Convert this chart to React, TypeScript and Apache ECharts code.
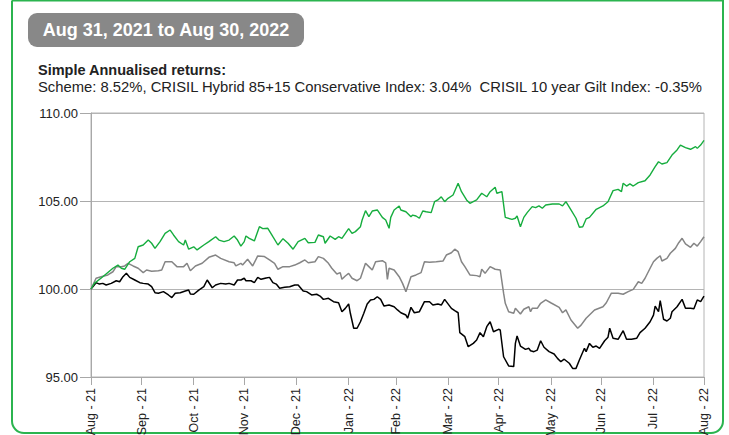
import React, { useEffect, useRef } from "react";
import * as echarts from "echarts";

const titleText = "Aug 31, 2021 to Aug 30, 2022";
const returnsHeading = "Simple Annualised returns:";
const returnsText =
  "Scheme: 8.52%, CRISIL Hybrid 85+15 Conservative Index: 3.04%  CRISIL 10 year Gilt Index: -0.35%";

const yTicks = [95, 100, 105, 110];

const startDate = "2021-08-31";
const endDate = "2022-08-30";

const tickDates = [
  "2021-08-31", "2021-09-30", "2021-10-31", "2021-11-30", "2021-12-31", "2022-01-31",
  "2022-02-28", "2022-03-31", "2022-04-30", "2022-05-31", "2022-06-30", "2022-07-31", "2022-08-30",
];
const tickLabels = [
  "Aug - 21", "Sep - 21", "Oct - 21", "Nov - 21", "Dec - 21", "Jan - 22",
  "Feb - 22", "Mar - 22", "Apr - 22", "May - 22", "Jun - 22", "Jul - 22", "Aug - 22",
];

const schemeData: [string, number][] = [
  ["2021-08-31", 100.0], ["2021-09-02", 100.32], ["2021-09-07", 100.7], ["2021-09-13", 101.18],
  ["2021-09-16", 101.36], ["2021-09-18", 101.18], ["2021-09-20", 101.12], ["2021-09-23", 101.55],
  ["2021-09-26", 101.74], ["2021-09-28", 102.4], ["2021-10-01", 102.5], ["2021-10-04", 102.78],
  ["2021-10-06", 102.6], ["2021-10-08", 102.31], ["2021-10-11", 102.69], ["2021-10-14", 103.16],
  ["2021-10-17", 103.35], ["2021-10-19", 103.07], ["2021-10-22", 102.69], ["2021-10-25", 102.5],
  ["2021-10-26", 102.78], ["2021-10-28", 102.26], ["2021-10-31", 102.4], ["2021-11-02", 102.22],
  ["2021-11-06", 102.5], ["2021-11-09", 102.69], ["2021-11-13", 102.97], ["2021-11-15", 102.78],
  ["2021-11-18", 102.69], ["2021-11-21", 102.78], ["2021-11-24", 103.01], ["2021-11-26", 102.78],
  ["2021-11-28", 102.44], ["2021-11-30", 102.69], ["2021-12-01", 103.01], ["2021-12-03", 102.88],
  ["2021-12-06", 102.73], ["2021-12-09", 103.54], ["2021-12-11", 103.43], ["2021-12-14", 103.45],
  ["2021-12-17", 102.97], ["2021-12-20", 102.5], ["2021-12-23", 102.86], ["2021-12-26", 102.6],
  ["2021-12-29", 102.26], ["2022-01-01", 102.69], ["2022-01-05", 102.88], ["2022-01-07", 102.63],
  ["2022-01-11", 102.65], ["2022-01-13", 103.07], ["2022-01-16", 102.97], ["2022-01-17", 102.6],
  ["2022-01-20", 103.01], ["2022-01-23", 102.82], ["2022-01-25", 102.97], ["2022-01-27", 102.88],
  ["2022-01-31", 103.43], ["2022-02-02", 103.16], ["2022-02-04", 103.26], ["2022-02-07", 103.54],
  ["2022-02-08", 103.92], ["2022-02-10", 104.45], ["2022-02-12", 104.11], ["2022-02-14", 104.43],
  ["2022-02-17", 104.49], ["2022-02-20", 104.07], ["2022-02-22", 103.92], ["2022-02-24", 103.45],
  ["2022-02-25", 104.07], ["2022-02-27", 104.49], ["2022-03-02", 104.72], ["2022-03-03", 104.49],
  ["2022-03-06", 104.39], ["2022-03-09", 104.11], ["2022-03-10", 104.2], ["2022-03-12", 104.15],
  ["2022-03-14", 104.02], ["2022-03-16", 104.43], ["2022-03-18", 104.39], ["2022-03-21", 104.34],
  ["2022-03-23", 104.96], ["2022-03-25", 105.06], ["2022-03-27", 105.24], ["2022-03-29", 104.96],
  ["2022-03-31", 105.15], ["2022-04-03", 105.34], ["2022-04-06", 106.01], ["2022-04-08", 105.53],
  ["2022-04-11", 105.06], ["2022-04-13", 104.87], ["2022-04-17", 105.06], ["2022-04-20", 105.44],
  ["2022-04-23", 105.24], ["2022-04-25", 105.53], ["2022-04-28", 105.78], ["2022-04-29", 105.44],
  ["2022-05-02", 105.53], ["2022-05-04", 104.07], ["2022-05-08", 103.96], ["2022-05-10", 104.02],
  ["2022-05-11", 104.15], ["2022-05-13", 103.54], ["2022-05-15", 104.07], ["2022-05-17", 104.34],
  ["2022-05-20", 104.68], ["2022-05-22", 104.62], ["2022-05-24", 104.72], ["2022-05-26", 104.59],
  ["2022-05-28", 104.77], ["2022-06-01", 104.83], ["2022-06-05", 104.83], ["2022-06-07", 104.72],
  ["2022-06-09", 104.96], ["2022-06-12", 104.49], ["2022-06-15", 104.02], ["2022-06-17", 103.51],
  ["2022-06-19", 103.54], ["2022-06-21", 103.98], ["2022-06-23", 104.07], ["2022-06-27", 104.53],
  ["2022-07-01", 104.72], ["2022-07-04", 104.96], ["2022-07-07", 105.59], ["2022-07-10", 105.66],
  ["2022-07-12", 105.53], ["2022-07-13", 106.01], ["2022-07-15", 105.85], ["2022-07-17", 105.97],
  ["2022-07-19", 105.85], ["2022-07-22", 106.04], ["2022-07-26", 106.15], ["2022-07-29", 106.48],
  ["2022-08-01", 106.95], ["2022-08-03", 107.23], ["2022-08-05", 107.1], ["2022-08-08", 107.18],
  ["2022-08-11", 107.61], ["2022-08-14", 107.9], ["2022-08-16", 108.18], ["2022-08-19", 108.03],
  ["2022-08-22", 107.94], ["2022-08-25", 108.09], ["2022-08-26", 107.99], ["2022-08-28", 108.18],
  ["2022-08-30", 108.45],
];

const hybridIndexData: [string, number][] = [
  ["2021-08-31", 100.0], ["2021-09-03", 100.61], ["2021-09-06", 100.7], ["2021-09-10", 100.8],
  ["2021-09-13", 100.98], ["2021-09-15", 101.27], ["2021-09-18", 101.27], ["2021-09-20", 101.31],
  ["2021-09-22", 101.46], ["2021-09-25", 101.31], ["2021-09-28", 101.18], ["2021-10-01", 100.93],
  ["2021-10-03", 101.08], ["2021-10-06", 101.01], ["2021-10-10", 101.04], ["2021-10-12", 101.08],
  ["2021-10-14", 101.55], ["2021-10-18", 101.55], ["2021-10-21", 101.27], ["2021-10-25", 101.27],
  ["2021-10-27", 101.46], ["2021-10-29", 101.04], ["2021-11-01", 101.31], ["2021-11-05", 101.46],
  ["2021-11-09", 101.8], ["2021-11-13", 101.93], ["2021-11-16", 101.74], ["2021-11-21", 101.55],
  ["2021-11-24", 101.49], ["2021-11-25", 101.31], ["2021-11-28", 101.46], ["2021-11-29", 101.36],
  ["2021-12-02", 101.69], ["2021-12-05", 101.31], ["2021-12-08", 101.88], ["2021-12-12", 101.84],
  ["2021-12-15", 101.65], ["2021-12-18", 101.46], ["2021-12-20", 101.12], ["2021-12-23", 101.27],
  ["2021-12-27", 101.27], ["2021-12-30", 101.36], ["2022-01-02", 101.49], ["2022-01-05", 101.65],
  ["2022-01-07", 101.49], ["2022-01-11", 101.55], ["2022-01-13", 101.84], ["2022-01-16", 101.74],
  ["2022-01-19", 101.46], ["2022-01-21", 101.18], ["2022-01-24", 100.85], ["2022-01-26", 100.93],
  ["2022-01-27", 100.55], ["2022-01-29", 100.74], ["2022-01-31", 100.89], ["2022-02-02", 100.61],
  ["2022-02-05", 100.47], ["2022-02-07", 100.61], ["2022-02-10", 101.46], ["2022-02-12", 101.27],
  ["2022-02-14", 101.08], ["2022-02-16", 101.55], ["2022-02-20", 101.61], ["2022-02-22", 101.49],
  ["2022-02-23", 100.55], ["2022-02-24", 101.18], ["2022-02-27", 101.08], ["2022-03-02", 100.7],
  ["2022-03-04", 100.32], ["2022-03-06", 99.85], ["2022-03-09", 100.7], ["2022-03-12", 100.8],
  ["2022-03-15", 100.93], ["2022-03-17", 101.55], ["2022-03-20", 101.52], ["2022-03-24", 101.55],
  ["2022-03-28", 101.59], ["2022-03-30", 101.93], ["2022-04-02", 102.06], ["2022-04-04", 102.26],
  ["2022-04-06", 102.12], ["2022-04-08", 101.55], ["2022-04-10", 101.27], ["2022-04-13", 100.8],
  ["2022-04-17", 100.76], ["2022-04-19", 100.7], ["2022-04-20", 101.12], ["2022-04-22", 100.89],
  ["2022-04-25", 101.27], ["2022-04-28", 101.12], ["2022-05-01", 101.08], ["2022-05-03", 99.76],
  ["2022-05-04", 99.19], ["2022-05-06", 98.71], ["2022-05-09", 98.62], ["2022-05-10", 98.9],
  ["2022-05-13", 98.58], ["2022-05-15", 98.85], ["2022-05-18", 98.99], ["2022-05-19", 98.71],
  ["2022-05-20", 98.9], ["2022-05-23", 98.9], ["2022-05-25", 99.19], ["2022-05-28", 99.38],
  ["2022-05-31", 99.22], ["2022-06-05", 98.96], ["2022-06-07", 98.65], ["2022-06-09", 98.81],
  ["2022-06-12", 98.24], ["2022-06-16", 97.77], ["2022-06-18", 97.95], ["2022-06-21", 98.34],
  ["2022-06-26", 98.81], ["2022-07-01", 98.99], ["2022-07-03", 99.22], ["2022-07-06", 99.76],
  ["2022-07-10", 99.76], ["2022-07-13", 99.7], ["2022-07-16", 99.85], ["2022-07-19", 99.98],
  ["2022-07-22", 100.41], ["2022-07-24", 100.32], ["2022-07-26", 100.61], ["2022-07-29", 101.18],
  ["2022-07-31", 101.55], ["2022-08-02", 101.74], ["2022-08-04", 101.89], ["2022-08-05", 101.59],
  ["2022-08-08", 101.74], ["2022-08-10", 102.03], ["2022-08-13", 102.31], ["2022-08-15", 102.63],
  ["2022-08-17", 102.88], ["2022-08-19", 102.56], ["2022-08-22", 102.37], ["2022-08-24", 102.6],
  ["2022-08-26", 102.44], ["2022-08-28", 102.69], ["2022-08-30", 102.97],
];

const giltIndexData: [string, number][] = [
  ["2021-08-31", 100.0], ["2021-09-03", 100.36], ["2021-09-05", 100.28], ["2021-09-07", 100.32],
  ["2021-09-09", 100.23], ["2021-09-12", 100.32], ["2021-09-15", 100.47], ["2021-09-17", 100.41],
  ["2021-09-19", 100.7], ["2021-09-21", 100.89], ["2021-09-23", 100.66], ["2021-09-26", 100.51],
  ["2021-09-29", 100.36], ["2021-10-01", 100.32], ["2021-10-04", 100.28], ["2021-10-06", 100.13],
  ["2021-10-08", 99.79], ["2021-10-10", 99.76], ["2021-10-13", 99.85], ["2021-10-16", 99.66],
  ["2021-10-18", 99.51], ["2021-10-20", 99.76], ["2021-10-23", 99.79], ["2021-10-26", 99.89],
  ["2021-10-28", 99.94], ["2021-10-29", 99.72], ["2021-10-31", 99.7], ["2021-11-03", 99.94],
  ["2021-11-06", 100.13], ["2021-11-08", 100.51], ["2021-11-11", 100.07], ["2021-11-13", 100.23],
  ["2021-11-16", 100.32], ["2021-11-19", 100.28], ["2021-11-21", 100.32], ["2021-11-24", 100.23],
  ["2021-11-26", 100.51], ["2021-11-28", 100.51], ["2021-11-30", 100.61], ["2021-12-01", 100.47],
  ["2021-12-04", 100.47], ["2021-12-06", 100.36], ["2021-12-08", 100.66], ["2021-12-10", 100.55],
  ["2021-12-13", 100.63], ["2021-12-15", 100.66], ["2021-12-17", 100.36], ["2021-12-19", 100.28],
  ["2021-12-21", 100.04], ["2021-12-24", 100.1], ["2021-12-27", 100.13], ["2021-12-30", 100.23],
  ["2022-01-01", 100.23], ["2022-01-04", 99.89], ["2022-01-06", 99.85], ["2022-01-09", 99.66],
  ["2022-01-12", 99.7], ["2022-01-14", 99.6], ["2022-01-16", 99.41], ["2022-01-19", 99.47],
  ["2022-01-22", 99.28], ["2022-01-25", 99.22], ["2022-01-27", 98.71], ["2022-01-29", 98.9],
  ["2022-01-31", 99.15], ["2022-02-01", 98.62], ["2022-02-03", 97.77], ["2022-02-05", 97.77],
  ["2022-02-07", 98.14], ["2022-02-09", 98.62], ["2022-02-11", 99.15], ["2022-02-13", 99.38],
  ["2022-02-15", 99.41], ["2022-02-17", 99.56], ["2022-02-19", 99.41], ["2022-02-21", 99.03],
  ["2022-02-24", 99.09], ["2022-02-27", 98.99], ["2022-03-01", 98.81], ["2022-03-03", 98.65],
  ["2022-03-06", 98.52], ["2022-03-07", 98.34], ["2022-03-09", 98.96], ["2022-03-11", 98.65],
  ["2022-03-14", 98.71], ["2022-03-17", 99.28], ["2022-03-20", 99.28], ["2022-03-22", 99.09],
  ["2022-03-25", 99.15], ["2022-03-27", 99.09], ["2022-03-29", 99.41], ["2022-04-02", 98.9],
  ["2022-04-04", 98.77], ["2022-04-06", 98.65], ["2022-04-07", 97.52], ["2022-04-10", 97.29],
  ["2022-04-12", 96.72], ["2022-04-15", 96.91], ["2022-04-17", 97.1], ["2022-04-19", 97.52],
  ["2022-04-21", 97.29], ["2022-04-23", 97.86], ["2022-04-25", 98.14], ["2022-04-27", 97.57],
  ["2022-04-30", 97.71], ["2022-05-01", 97.67], ["2022-05-03", 96.15], ["2022-05-06", 95.63],
  ["2022-05-09", 95.59], ["2022-05-10", 96.91], ["2022-05-11", 97.33], ["2022-05-13", 96.76],
  ["2022-05-16", 96.57], ["2022-05-18", 96.63], ["2022-05-19", 96.49], ["2022-05-21", 96.44],
  ["2022-05-23", 96.53], ["2022-05-25", 97.06], ["2022-05-27", 96.69], ["2022-05-30", 96.44],
  ["2022-06-02", 96.31], ["2022-06-04", 96.06], ["2022-06-06", 95.87], ["2022-06-08", 96.01],
  ["2022-06-11", 95.78], ["2022-06-13", 95.49], ["2022-06-15", 95.49], ["2022-06-17", 95.97],
  ["2022-06-20", 96.63], ["2022-06-21", 96.44], ["2022-06-23", 96.91], ["2022-06-25", 96.69],
  ["2022-06-27", 96.76], ["2022-06-29", 96.63], ["2022-07-02", 97.06], ["2022-07-04", 97.26],
  ["2022-07-05", 97.77], ["2022-07-07", 97.2], ["2022-07-10", 97.14], ["2022-07-13", 97.63],
  ["2022-07-15", 97.14], ["2022-07-18", 97.14], ["2022-07-21", 97.2], ["2022-07-23", 97.52],
  ["2022-07-26", 97.77], ["2022-07-29", 98.14], ["2022-07-31", 98.52], ["2022-08-01", 99.03],
  ["2022-08-03", 98.71], ["2022-08-04", 99.34], ["2022-08-06", 98.28], ["2022-08-08", 98.18],
  ["2022-08-10", 98.34], ["2022-08-11", 98.71], ["2022-08-14", 98.99], ["2022-08-17", 99.41],
  ["2022-08-19", 98.9], ["2022-08-22", 98.9], ["2022-08-24", 98.88], ["2022-08-26", 99.38],
  ["2022-08-28", 99.28], ["2022-08-30", 99.6],
];

const FONT = "'Liberation Sans', Arial, sans-serif";

function pad(n: number): string {
  return n < 10 ? "0" + n : String(n);
}

function buildDays(from: string, to: string): string[] {
  const [y0, m0, d0] = from.split("-").map(Number);
  const out: string[] = [];
  const cur = new Date(y0, m0 - 1, d0);
  for (let guard = 0; guard < 1000; guard++) {
    const s = `${cur.getFullYear()}-${pad(cur.getMonth() + 1)}-${pad(cur.getDate())}`;
    out.push(s);
    if (s === to) break;
    cur.setDate(cur.getDate() + 1);
  }
  return out;
}

export default function App() {
  const ref = useRef<HTMLDivElement>(null);

  useEffect(() => {
    if (!ref.current) return;
    const chart = echarts.init(ref.current, undefined, { renderer: "svg" });
    const days = buildDays(startDate, endDate);
    const isTick = (_i: number, v: string) => tickDates.indexOf(v) >= 0;

    chart.setOption({
      animation: false,
      backgroundColor: "#ffffff",
      textStyle: { fontFamily: FONT },
      grid: {
        left: 91,
        right: 25,
        top: 113,
        bottom: 58,
        containLabel: false,
        outerBoundsMode: "none",
        show: true,
        borderColor: "#b4b4b4",
        borderWidth: 1,
        backgroundColor: "transparent",
      },
      xAxis: {
        type: "category",
        data: days,
        boundaryGap: false,
        axisLine: { show: true, lineStyle: { color: "#a8a8a8", width: 1 } },
        axisTick: {
          show: true,
          length: 8,
          interval: isTick,
          lineStyle: { color: "#a8a8a8" },
        },
        axisLabel: {
          show: true,
          interval: isTick,
          rotate: 90,
          margin: 11,
          fontSize: 12.5,
          color: "#222222",
          fontFamily: FONT,
          formatter: (val: string) => {
            const i = tickDates.indexOf(val);
            return i >= 0 ? tickLabels[i] : "";
          },
        },
        splitLine: { show: false },
      },
      yAxis: {
        type: "value",
        min: yTicks[0],
        max: yTicks[yTicks.length - 1],
        interval: 5,
        axisLine: { show: true, lineStyle: { color: "#a8a8a8" } },
        axisTick: { show: true, length: 11, lineStyle: { color: "#a8a8a8" } },
        axisLabel: {
          margin: 13,
          fontSize: 13,
          color: "#222222",
          fontFamily: FONT,
          formatter: (v: number) => v.toFixed(2),
        },
        splitLine: { show: true, lineStyle: { color: "#b4b4b4", width: 1 } },
      },
      series: [
        {
          name: "CRISIL 10 year Gilt Index",
          type: "line",
          data: giltIndexData,
          showSymbol: false,
          symbol: "none",
          lineStyle: { color: "#000000", width: 1.5 },
          z: 3,
        },
        {
          name: "CRISIL Hybrid 85+15 Conservative Index",
          type: "line",
          data: hybridIndexData,
          showSymbol: false,
          symbol: "none",
          lineStyle: { color: "#858585", width: 1.5 },
          z: 4,
        },
        {
          name: "Scheme",
          type: "line",
          data: schemeData,
          showSymbol: false,
          symbol: "none",
          lineStyle: { color: "#16ad3e", width: 1.4 },
          z: 5,
        },
      ],
      graphic: [
        {
          type: "rect",
          shape: { x: 12, y: 0.5, width: 711, height: 432.5, r: [0, 0, 12, 12] },
          style: { fill: "none", stroke: "#2bb44f", lineWidth: 2 },
          silent: true,
        },
        {
          type: "rect",
          shape: { x: 28, y: 13, width: 276, height: 34, r: 9 },
          style: { fill: "#888888" },
          silent: true,
        },
        {
          type: "text",
          x: 166,
          y: 30,
          style: {
            text: titleText,
            fill: "#ffffff",
            font: `bold 18px ${FONT}`,
            align: "center",
            verticalAlign: "middle",
          },
          silent: true,
        },
        {
          type: "text",
          x: 38,
          y: 70,
          style: {
            text: returnsHeading,
            fill: "#222222",
            font: `bold 14.5px ${FONT}`,
            align: "left",
            verticalAlign: "middle",
          },
          silent: true,
        },
        {
          type: "text",
          x: 38,
          y: 87,
          style: {
            text: returnsText,
            fill: "#222222",
            font: `14.8px ${FONT}`,
            align: "left",
            verticalAlign: "middle",
          },
          silent: true,
        },
      ],
    });

    return () => chart.dispose();
  }, []);

  return (
    <div
      ref={ref}
      style={{ position: "fixed", left: 0, top: 0, width: 729, height: 435 }}
    />
  );
}
